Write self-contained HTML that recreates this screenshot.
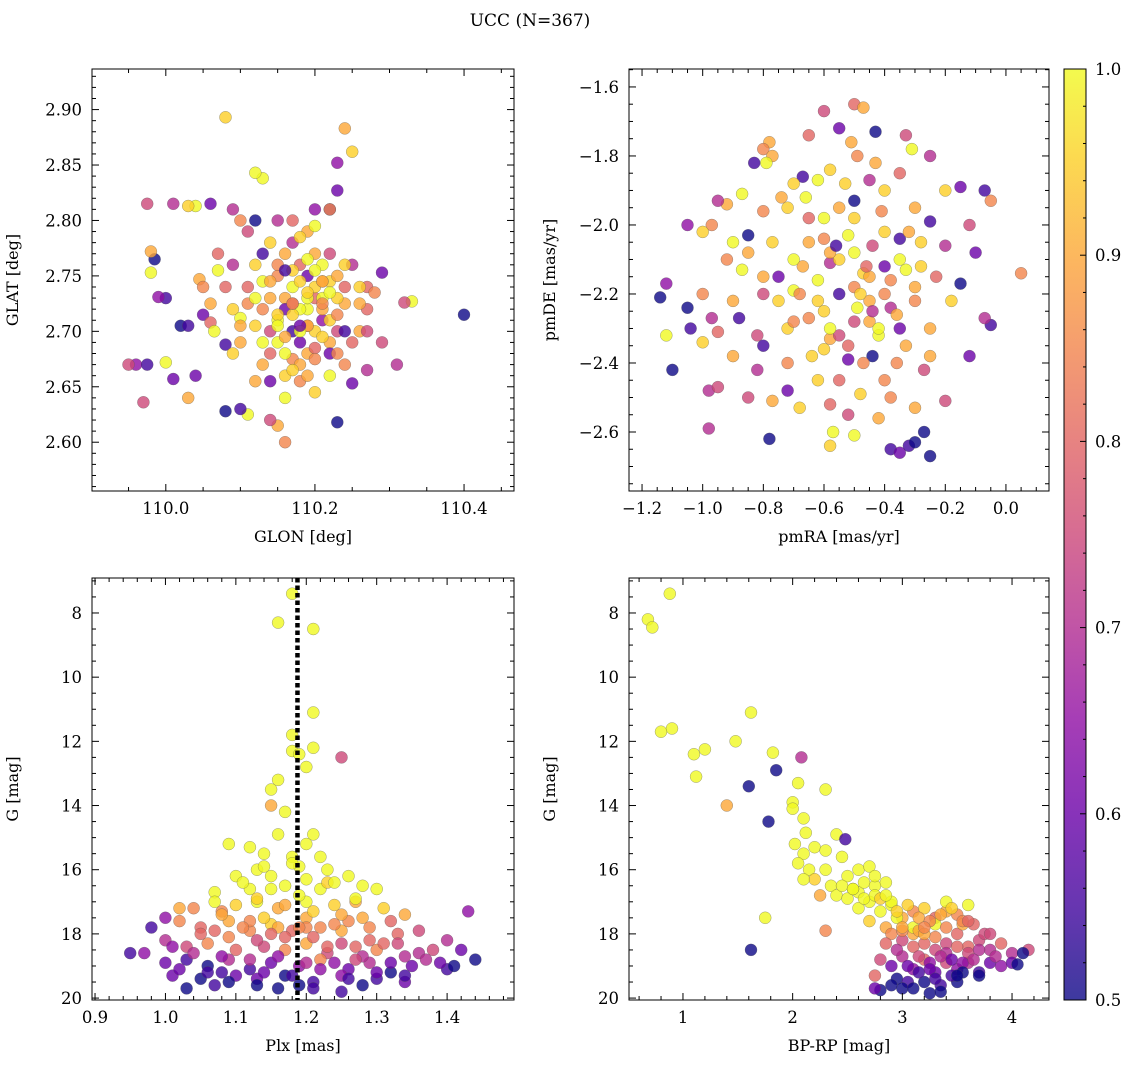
<!DOCTYPE html>
<html><head><meta charset="utf-8">
<style>
html,body{margin:0;padding:0;background:#fff;}
svg{display:block;font-family:"DejaVu Serif","Liberation Serif",serif;}
</style></head>
<body>
<svg id="fig" width="1136" height="1068" viewBox="0 0 1136 1068" xmlns="http://www.w3.org/2000/svg">
<defs>
<linearGradient id="plasma" x1="0" y1="1" x2="0" y2="0">
<stop offset="0" stop-color="#0d0887"/><stop offset="0.1" stop-color="#41049d"/><stop offset="0.2" stop-color="#6a00a8"/><stop offset="0.3" stop-color="#8f0da4"/><stop offset="0.4" stop-color="#b12a90"/><stop offset="0.5" stop-color="#cc4778"/><stop offset="0.6" stop-color="#e16462"/><stop offset="0.7" stop-color="#f2844b"/><stop offset="0.8" stop-color="#fca636"/><stop offset="0.9" stop-color="#fcce25"/><stop offset="1" stop-color="#f0f921"/>
</linearGradient>
</defs>
<text x="530" y="26" text-anchor="middle" font-size="17">UCC (N=367)</text>
<rect x="1064" y="69" width="22" height="931" fill="url(#plasma)" opacity="0.8" stroke="none"/>
<rect x="1064" y="69" width="22" height="931" fill="none" stroke="#000" stroke-width="1"/>
</svg>
<script>
// Panel 1: GLON vs GLAT
const glonVals=[110.4,110.33,110.32,110.29,110.31,110.29,110.27,110.27,110.25,110.24,110.23,110.23,110.22,110.22,110.23,110.25,110.24,110.22,110.2,110.19,110.18,110.17,110.16,110.15,110.14,110.12,110.11,110.1,110.08,110.08,110.13,110.12,110.15,110.17,110.2,110.14,110.1,110.09,110.07,110.06,110.04,110.03,110.0,109.99,109.985,109.98,109.98,109.975,110.01,109.96,109.975,109.97,109.95,110.0,110.01,110.02,110.03,110.03,110.04,110.05,110.045,110.05,110.06,110.065,110.08,110.09,110.1,110.1,110.11,110.12,110.13,110.14,110.15,110.16,110.17,110.18,110.19,110.2,110.21,110.22,110.23,110.24,110.25,110.26,110.27,110.16,110.18,110.2,110.17,110.19,110.21,110.15,110.13,110.11,110.07,110.09,110.16,110.2,110.18,110.14,110.22,110.2,110.19,110.12,110.24,110.26,110.21,110.17,110.16,110.22,110.19,110.21,110.23,110.18];
const glatVals=[2.715,2.727,2.726,2.753,2.67,2.69,2.74,2.665,2.862,2.883,2.852,2.827,2.81,2.81,2.618,2.653,2.725,2.745,2.7,2.72,2.69,2.675,2.6,2.615,2.62,2.655,2.625,2.63,2.628,2.893,2.838,2.843,2.8,2.8,2.77,2.78,2.8,2.81,2.77,2.815,2.813,2.813,2.73,2.731,2.765,2.772,2.753,2.815,2.815,2.67,2.67,2.636,2.67,2.672,2.657,2.705,2.705,2.64,2.66,2.715,2.747,2.74,2.708,2.7,2.688,2.68,2.69,2.712,2.74,2.76,2.72,2.7,2.69,2.66,2.74,2.76,2.75,2.73,2.71,2.69,2.7,2.67,2.76,2.7,2.72,2.73,2.72,2.74,2.7,2.68,2.76,2.75,2.77,2.79,2.755,2.76,2.64,2.645,2.655,2.655,2.66,2.81,2.79,2.8,2.7,2.74,2.72,2.78,2.72,2.68,2.705,2.73,2.75,2.745];
const glonProb=[0.5,1.0,0.75,0.6,0.7,0.75,0.8,0.7,0.95,0.9,0.65,0.6,0.55,0.85,0.5,0.6,0.9,0.95,0.95,1.0,0.6,0.85,0.85,0.9,0.75,0.9,1.0,0.55,0.5,0.95,1.0,1.0,0.7,0.8,0.9,0.95,0.85,0.7,0.8,0.6,1.0,0.95,0.55,0.65,0.5,0.9,1.0,0.75,0.7,0.65,0.55,0.75,0.75,1.0,0.6,0.5,0.55,0.9,0.6,0.6,0.9,0.85,0.8,1.0,0.55,0.95,0.9,1.0,0.8,0.95,0.85,0.75,1.0,0.95,1.0,0.8,0.6,0.8,0.65,0.9,0.75,0.85,0.7,0.9,0.8,0.9,1.0,0.95,0.55,0.9,1.0,0.85,0.55,0.75,1.0,0.7,1.0,0.95,0.85,0.6,1.0,0.65,0.9,0.5,0.55,0.95,0.9,0.7,0.6,0.6,0.85,1.0,0.9,0.95];
const glonValsB=[110.15,110.17,110.19,110.21,110.23,110.16,110.18,110.2,110.22,110.14,110.13,110.15,110.17,110.19,110.21,110.12,110.14,110.16,110.18,110.2,110.22,110.24,110.13,110.15,110.17,110.19,110.21,110.23,110.16,110.18,110.2,110.11,110.1,110.12,110.24,110.25,110.26,110.18,110.2,110.22,110.14,110.16,110.19,110.17,110.15,110.23,110.08,110.09,110.06,110.27,110.28,110.13,110.21,110.19,110.17];
const glatValsB=[2.71,2.715,2.705,2.725,2.73,2.695,2.7,2.685,2.71,2.73,2.745,2.76,2.755,2.73,2.745,2.705,2.68,2.68,2.67,2.675,2.735,2.74,2.67,2.715,2.725,2.765,2.695,2.715,2.77,2.785,2.795,2.725,2.705,2.73,2.76,2.69,2.725,2.705,2.755,2.77,2.745,2.755,2.66,2.665,2.705,2.68,2.74,2.72,2.725,2.7,2.735,2.69,2.745,2.735,2.725];
const glonProbB=[1.0,0.95,0.9,0.85,0.95,0.9,1.0,0.8,0.95,0.9,1.0,0.85,0.95,1.0,0.9,0.95,0.8,1.0,0.9,0.85,1.0,0.8,0.9,0.95,0.75,1.0,0.95,0.85,0.9,0.95,1.0,0.85,0.9,1.0,0.95,0.8,0.9,0.6,1.0,0.75,0.9,0.55,0.9,0.95,1.0,0.85,0.8,0.95,0.9,0.75,0.85,1.0,0.9,0.95,0.85];
// Panel 2: pmRA vs pmDE
const pmraVals=[-0.5,-0.47,-0.6,-0.65,-0.78,-0.8,-0.77,-0.83,-0.79,-0.55,-0.51,-0.43,-0.33,-0.31,-0.25,-0.49,-0.58,-0.67,-0.7,-0.62,-0.45,-0.4,-0.35,-0.15,-0.07,-0.2,-0.05,-0.87,-0.92,-0.95,-0.8,-0.72,-0.65,-0.55,-0.5,-0.3,-0.25,-0.12,-0.97,-1.0,-1.05,-0.85,-0.77,-0.6,-0.52,-0.44,-0.35,-0.28,-0.2,-0.1,0.05,-0.92,-0.87,-0.75,-0.67,-0.58,-0.47,-0.4,-0.33,-0.23,-0.15,-1.12,-1.14,-1.0,-0.9,-0.8,-0.7,-0.62,-0.55,-0.45,-0.38,-0.3,-0.18,-1.05,-1.04,-0.97,-0.95,-0.88,-0.82,-0.72,-0.65,-0.58,-0.5,-0.42,-0.35,-0.25,-0.05,-0.07,-1.12,-1.1,-1.0,-0.9,-0.8,-0.72,-0.6,-0.52,-0.44,-0.36,-0.25,-0.12,-0.98,-0.95,-0.85,-0.77,-0.68,-0.58,-0.48,-0.4,-0.3,-0.2,-0.98,-0.78,-0.57,-0.58,-0.5,-0.42,-0.38,-0.35,-0.32,-0.3,-0.25,-0.27];
const pmdeVals=[-1.65,-1.66,-1.67,-1.74,-1.76,-1.78,-1.8,-1.82,-1.82,-1.72,-1.76,-1.73,-1.74,-1.78,-1.8,-1.8,-1.84,-1.86,-1.88,-1.87,-1.87,-1.9,-1.85,-1.89,-1.9,-1.9,-1.93,-1.91,-1.94,-1.93,-1.96,-1.95,-1.98,-1.95,-1.93,-1.95,-1.99,-2.0,-2.0,-2.02,-2.0,-2.03,-2.05,-2.04,-2.03,-2.06,-2.04,-2.05,-2.06,-2.08,-2.14,-2.1,-2.13,-2.15,-2.12,-2.11,-2.14,-2.12,-2.13,-2.15,-2.17,-2.17,-2.21,-2.2,-2.22,-2.2,-2.19,-2.22,-2.2,-2.22,-2.24,-2.22,-2.22,-2.24,-2.3,-2.27,-2.31,-2.27,-2.32,-2.3,-2.27,-2.33,-2.28,-2.32,-2.3,-2.3,-2.29,-2.27,-2.32,-2.42,-2.34,-2.38,-2.35,-2.4,-2.36,-2.39,-2.38,-2.4,-2.38,-2.38,-2.48,-2.47,-2.5,-2.51,-2.53,-2.52,-2.49,-2.45,-2.53,-2.51,-2.59,-2.62,-2.6,-2.64,-2.61,-2.56,-2.65,-2.66,-2.64,-2.63,-2.67,-2.6];
const pmProb=[0.8,0.9,0.75,0.8,0.9,0.85,0.9,0.55,1.0,0.6,0.9,0.5,0.75,1.0,0.7,0.85,0.95,0.55,0.95,1.0,0.7,0.95,0.8,0.6,0.55,0.95,0.85,1.0,0.9,0.7,0.85,0.95,0.8,0.9,0.5,0.9,0.55,0.75,0.85,0.95,0.65,0.5,0.95,0.85,1.0,0.75,0.55,0.95,0.7,0.6,0.85,0.85,1.0,0.6,0.9,0.7,0.95,0.6,1.0,0.8,0.5,0.65,0.5,0.85,0.9,0.75,1.0,0.95,0.55,0.9,0.7,0.85,0.95,0.5,0.55,0.7,0.8,0.55,0.75,0.95,0.85,0.9,0.75,1.0,0.6,0.9,0.55,0.7,1.0,0.5,0.95,0.9,0.55,0.85,0.95,0.6,0.5,0.85,0.9,0.6,0.7,0.75,0.75,0.9,0.95,0.8,0.95,0.85,0.9,0.75,0.7,0.5,1.0,0.95,1.0,0.9,0.55,0.6,0.55,0.5,0.5,0.5];
const pmraValsB=[-0.55,-0.5,-0.45,-0.4,-0.35,-0.6,-0.65,-0.7,-0.5,-0.45,-0.55,-0.4,-0.3,-0.62,-0.68,-0.75,-0.85,-0.52,-0.48,-0.42,-0.38,-0.58,-0.6,-0.5,-0.44,-0.36,-0.28,-0.7,-0.8,-0.9,-0.55,-0.62,-0.47,-0.33,-0.27,-0.66,-0.74,-0.53,-0.41,-0.32,-0.58,-0.46,-0.64,-0.38,-0.52,-0.82,-0.72,-0.43,-0.56,-0.49];
const pmdeValsB=[-2.1,-2.08,-2.15,-2.2,-2.1,-2.25,-2.05,-2.1,-2.18,-2.28,-2.32,-2.02,-2.18,-2.16,-2.2,-2.22,-2.08,-2.35,-2.2,-2.3,-2.16,-2.08,-1.98,-1.98,-2.25,-2.26,-2.12,-2.28,-2.15,-2.05,-2.45,-2.45,-2.4,-2.35,-2.42,-1.92,-1.92,-1.88,-1.96,-2.02,-2.3,-2.12,-2.38,-2.5,-2.55,-2.42,-2.48,-1.82,-2.06,-2.24];
const pmProbB=[0.95,1.0,0.9,0.85,1.0,0.95,0.9,1.0,0.85,0.9,0.75,0.95,0.9,1.0,0.85,0.95,0.9,0.8,0.95,1.0,0.85,0.9,1.0,0.95,0.7,0.9,0.95,0.85,0.9,1.0,0.8,0.95,0.85,0.9,0.75,1.0,0.9,0.95,0.85,0.9,1.0,0.8,0.95,0.85,0.75,0.7,0.6,0.9,0.55,1.0];
// Panel 3: Plx vs G
const plxVals=[1.18,1.16,1.21,1.21,1.18,1.18,1.19,1.21,1.25,1.2,1.16,1.15,1.15,1.17,1.21,1.2,1.16,1.12,1.09,1.14,1.18,1.22,1.19,1.23,1.13,1.1,1.15,1.2,1.26,1.07,1.12,1.17,1.22,1.28,1.3,1.04,1.07,1.1,1.13,1.16,1.2,1.24,1.27,1.31,1.34,1.0,1.02,1.05,1.09,1.12,1.15,1.18,1.22,1.25,1.29,1.33,1.36,1.4,1.43,0.98,1.0,1.03,1.06,1.1,1.14,1.17,1.2,1.23,1.27,1.3,1.34,1.38,1.42,0.95,0.97,1.0,1.03,1.06,1.09,1.12,1.15,1.19,1.22,1.26,1.29,1.32,1.35,1.4,1.44,1.41,1.01,1.05,1.08,1.13,1.17,1.21,1.25,1.3,1.34,1.03,1.07,1.16,1.19,1.25,1.02,1.08,1.14,1.2,1.26,1.32];
const gPlxVals=[7.4,8.3,8.5,11.1,11.8,12.3,12.4,12.2,12.5,12.8,13.2,13.5,14.0,14.2,14.9,15.2,14.9,15.3,15.2,15.5,15.6,15.6,15.9,16.0,16.0,16.2,16.2,16.3,16.2,16.7,16.6,16.5,16.6,16.5,16.6,17.2,17.0,17.1,17.0,17.2,17.0,17.1,17.0,17.2,17.4,17.5,17.6,17.8,17.6,17.9,17.7,17.9,17.8,17.9,17.8,18.0,17.9,18.2,17.3,17.8,18.2,18.4,18.3,18.5,18.4,18.5,18.3,18.6,18.4,18.5,18.7,18.5,18.5,18.6,18.6,18.9,18.8,19.0,18.8,19.1,18.9,19.0,18.8,19.1,18.9,19.2,19.0,19.1,18.8,19.0,19.3,19.4,19.2,19.4,19.3,19.5,19.3,19.4,19.5,19.7,19.6,19.7,19.6,19.8,17.2,17.3,17.5,17.5,17.6,17.6];
const plxProb=[1,1,1,1,1,1,1,1,0.75,1,1,1,0.9,1,1,1,1,1,1,1,1,1,1,1,1,1,1,1,1,1,1,1,1,1,1,0.85,1,0.95,1,0.9,1,0.95,0.9,0.95,0.9,0.65,0.85,0.8,0.9,0.85,0.95,0.8,0.85,0.9,0.85,0.8,0.75,0.7,0.65,0.55,0.7,0.75,0.85,0.8,0.75,0.85,0.9,0.75,0.8,0.85,0.7,0.75,0.6,0.55,0.65,0.6,0.55,0.5,0.7,0.55,0.6,0.65,0.85,0.6,0.7,0.5,0.6,0.55,0.5,0.5,0.6,0.5,0.55,0.6,0.5,0.55,0.65,0.55,0.6,0.5,0.55,0.5,0.5,0.55,0.9,0.85,0.95,0.9,0.85,0.8];
const plxValsB=[1.11,1.15,1.19,1.23,1.27,1.13,1.17,1.21,1.25,1.08,1.12,1.16,1.2,1.24,1.28,1.05,1.09,1.13,1.17,1.21,1.25,1.29,1.33,1.04,1.08,1.12,1.16,1.2,1.24,1.28,1.32,1.36,1.06,1.1,1.14,1.18,1.22,1.26,1.3,1.34,1.02,1.11,1.15,1.19,1.23,1.27,1.31,1.37,1.09,1.13,1.21,1.28,1.18,1.24,1.14,1.07,1.01,1.39];
const gPlxValsB=[16.4,16.6,16.8,16.4,16.9,16.9,17.1,17.3,17.4,17.4,17.6,17.8,17.8,17.7,17.5,18.0,18.1,18.2,18.1,18.1,18.3,18.2,18.3,18.6,18.7,18.8,18.7,18.9,18.9,18.7,18.9,18.6,19.2,19.3,19.2,19.3,19.1,19.4,19.2,19.3,19.1,17.8,18.0,17.8,18.4,18.8,18.3,18.8,19.5,19.6,19.7,19.6,15.8,16.4,15.9,17.9,18.4,18.9];
const plxProbB=[1,1,1,0.95,1,0.95,0.9,0.95,0.9,0.9,0.85,0.9,0.85,0.85,0.9,0.8,0.85,0.75,0.8,0.8,0.75,0.8,0.75,0.7,0.65,0.7,0.65,0.7,0.65,0.7,0.6,0.7,0.55,0.6,0.6,0.55,0.65,0.55,0.6,0.55,0.6,0.85,0.8,0.85,0.8,0.75,0.8,0.7,0.5,0.5,0.55,0.5,1,1,1,0.8,0.65,0.6];
const plxLine=[1.1875];
// Panel 4: BP-RP vs G
const bprpVals=[0.68,0.72,0.88,0.8,0.9,1.1,1.2,1.12,1.48,1.62,1.4,1.6,1.78,1.62,1.75,1.82,1.85,2.08,2.05,2.0,2.0,2.3,2.3,2.1,2.12,2.4,2.48,2.02,2.1,2.2,2.3,2.05,2.15,2.3,2.45,2.2,2.1,2.35,2.5,2.6,2.7,2.4,2.5,2.6,2.75,2.85,2.25,2.6,2.7,2.8,2.9,2.7,2.85,3.0,3.1,3.2,3.3,3.4,3.5,3.6,3.4,2.9,3.0,3.1,3.2,3.3,3.4,3.5,3.6,3.7,3.8,3.9,4.0,4.15,4.1,2.8,2.9,3.0,3.1,3.2,3.3,3.4,3.5,3.6,3.7,3.8,3.9,4.0,4.05,2.75,2.95,3.05,3.2,3.35,3.5,3.7,3.25,3.35,2.8,3.0,2.75,3.1,3.3,3.55,2.95,3.15];
const gCmdVals=[8.2,8.45,7.4,11.7,11.6,12.4,12.25,13.1,12.0,11.1,14.0,13.4,14.5,18.5,17.5,12.35,12.9,12.5,13.3,13.9,14.1,13.5,17.9,14.4,14.85,14.9,15.05,15.2,15.5,15.3,15.4,15.8,16.0,16.0,15.6,16.3,16.3,16.5,16.2,16.0,15.9,16.8,16.9,16.7,16.5,16.4,16.8,17.2,17.0,17.3,17.1,17.6,17.8,17.5,17.3,17.2,17.5,17.3,17.4,17.1,17.0,18.0,18.2,18.0,18.3,18.1,18.3,18.0,18.4,18.2,18.5,18.3,18.6,18.5,18.6,18.8,19.0,18.7,19.1,18.8,19.2,18.9,19.1,18.9,19.2,18.9,19.0,18.9,18.95,19.3,19.4,19.5,19.5,19.6,19.5,19.3,19.85,19.8,19.75,19.7,19.7,17.8,17.7,17.7,17.5,17.9];
const cmdProb=[1,1,1,1,1,1,1,1,1,1,0.9,0.5,0.5,0.5,1,1,0.5,0.7,1,1,1,1,0.85,1,1,1,0.55,1,1,1,1,1,1,1,1,0.95,1,1,1,1,1,1,1,1,1,1,0.9,1,1,1,1,0.95,0.9,0.9,0.85,0.95,0.8,0.9,0.85,1,1,0.85,0.75,0.9,0.8,0.85,0.75,0.8,0.8,0.75,0.7,0.8,0.7,0.75,0.5,0.75,0.6,0.7,0.65,0.8,0.6,0.75,0.65,0.7,0.55,0.6,0.65,0.6,0.5,0.8,0.5,0.55,0.5,0.55,0.5,0.5,0.5,0.5,0.5,0.5,0.6,1,1,0.9,1,0.9];
const bprpValsB=[2.55,2.65,2.75,2.8,2.9,2.95,3.05,3.15,3.25,3.35,3.45,3.55,3.65,3.75,3.0,3.1,3.2,3.3,3.4,3.5,3.6,3.7,3.15,3.25,3.35,3.45,3.55,3.65,2.85,2.95,3.05,3.15,3.25,3.45,3.55,3.85,2.9,3.1,3.3,3.5,2.65,2.75,2.85,2.45,2.55,3.0,3.2,3.4,3.6,3.8];
const gCmdValsB=[16.6,16.9,16.8,16.9,17.0,17.3,17.1,17.5,17.6,17.4,17.2,17.6,17.7,18.0,17.9,18.4,18.0,18.5,18.6,18.4,18.6,18.5,18.7,18.9,18.7,18.8,18.9,18.8,18.3,18.5,19.0,19.2,19.1,19.3,19.2,18.7,19.6,19.7,19.4,19.3,16.4,16.2,16.8,16.5,16.6,17.8,17.8,17.8,17.6,18.0];
const cmdProbB=[1,1,1,0.95,1,0.95,0.95,0.9,0.85,0.9,0.95,0.85,0.8,0.75,0.85,0.8,0.9,0.75,0.7,0.8,0.75,0.7,0.75,0.65,0.7,0.6,0.65,0.7,0.8,0.7,0.6,0.55,0.6,0.55,0.5,0.7,0.5,0.5,0.55,0.5,1,1,1,1,1,0.9,0.85,0.85,0.8,0.75];
const cbarTicks=[0.5,0.6,0.7,0.8,0.9,1.0];

const NS="http://www.w3.org/2000/svg";
const svg=document.getElementById('fig');
const stops=[[13,8,135],[65,4,157],[106,0,168],[143,13,164],[177,42,144],[204,71,120],[225,100,98],[242,132,75],[252,166,54],[252,206,37],[240,249,33]];
function plasma(v){let t=(v-0.5)/0.5;t=Math.max(0,Math.min(1,t));const f=t*10;const i=Math.min(9,Math.floor(f));const r=f-i;const a=stops[i],b=stops[i+1];return 'rgb('+a.map((c,k)=>Math.round(c+(b[k]-c)*r)).join(',')+')';}
function mk(tag,attrs,parent){const e=document.createElementNS(NS,tag);for(const k in attrs)e.setAttribute(k,attrs[k]);(parent||svg).appendChild(e);return e;}
function scale(d0,d1,r0,r1){return v=>r0+(v-d0)/(d1-d0)*(r1-r0);}
function fmt(v,dec){let s=v.toFixed(dec);if(v<0)s='\u2212'+(-v).toFixed(dec);return s;}

function panel(name,box,xd,yd,xMaj,xMin,xDec,yMaj,yMin,yDec,xs,ys,cs,xlab,ylab){
  const g=mk('g',{});
  
  
  const sx=scale(xd[0],xd[1],box.x0,box.x1),sy=scale(yd[0],yd[1],box.y1,box.y0);
  const pg=mk('g',{},g);
  
  
  for(let i=0;i<xs.length;i++){
    const c=mk('circle',{cx:sx(xs[i]).toFixed(1),cy:sy(ys[i]).toFixed(1),r:6,fill:plasma(cs[i]),'fill-opacity':0.8,stroke:'#555','stroke-width':0.4,'stroke-opacity':0.7},pg);
    
    
  }
  const frame=mk('rect',{x:box.x0,y:box.y0,width:box.x1-box.x0,height:box.y1-box.y0,fill:'none',stroke:'#000','stroke-width':1},g);
  
  
  const tg=mk('g',{stroke:'#000','stroke-width':1},g);
  
  
  const lo=Math.min(xd[0],xd[1]),hi=Math.max(xd[0],xd[1]);
  for(let v=Math.ceil(lo/xMin-1e-6)*xMin;v<=hi+1e-9;v+=xMin){
    const px=sx(v);const isMaj=Math.abs(v/xMaj-Math.round(v/xMaj))<1e-4;const L=isMaj?7:4;
    mk('line',{x1:px,x2:px,y1:box.y1,y2:box.y1-L},tg);mk('line',{x1:px,x2:px,y1:box.y0,y2:box.y0+L},tg);
    if(isMaj){const t=mk('text',{x:px,y:box.y1+23,'text-anchor':'middle','font-size':16.5,stroke:'none'},g);t.textContent=fmt(Math.round(v/xMaj)*xMaj,xDec);
      
      }
  }
  const ylo=Math.min(yd[0],yd[1]),yhi=Math.max(yd[0],yd[1]);
  for(let v=Math.ceil(ylo/yMin-1e-6)*yMin;v<=yhi+1e-9;v+=yMin){
    const py=sy(v);const isMaj=Math.abs(v/yMaj-Math.round(v/yMaj))<1e-4;const L=isMaj?7:4;
    mk('line',{x1:box.x0,x2:box.x0+L,y1:py,y2:py},tg);mk('line',{x1:box.x1,x2:box.x1-L,y1:py,y2:py},tg);
    if(isMaj){const t=mk('text',{x:box.x0-10,y:py+6,'text-anchor':'end','font-size':16.5,stroke:'none'},g);t.textContent=fmt(Math.round(v/yMaj)*yMaj,yDec);
      
      }
  }
  const xl=mk('text',{x:(box.x0+box.x1)/2,y:box.y1+51,'text-anchor':'middle','font-size':16},g);xl.textContent=xlab;
  
  
  const yx=box.x0-74,yy=(box.y0+box.y1)/2;
  const yl=mk('text',{x:yx,y:yy,'text-anchor':'middle','font-size':16,transform:'rotate(-90 '+yx+' '+yy+')'},g);yl.textContent=ylab;
  
  
  return {sx,sy,g};
}
panel('glon-glat-panel',{x0:92,x1:514,y0:69,y1:491},[109.901,110.467],[2.556,2.9366],0.2,0.05,1,0.05,0.01,2,glonVals.concat(glonValsB),glatVals.concat(glatValsB),glonProb.concat(glonProbB),'GLON [deg]','GLAT [deg]');
panel('pm-panel',{x0:629,x1:1049,y0:69,y1:491},[-1.243,0.142],[-2.771,-1.548],0.2,0.05,1,0.2,0.05,1,pmraVals.concat(pmraValsB),pmdeVals.concat(pmdeValsB),pmProb.concat(pmProbB),'pmRA [mas/yr]','pmDE [mas/yr]');
const p3=panel('plx-g-panel',{x0:92,x1:514,y0:578,y1:1000},[0.8957,1.495],[20.06,6.91],0.1,0.02,1,2,0.5,0,plxVals.concat(plxValsB),gPlxVals.concat(gPlxValsB),plxProb.concat(plxProbB),'Plx [mas]','G [mag]');
const pl=mk('line',{x1:p3.sx(plxLine[0]),x2:p3.sx(plxLine[0]),y1:578,y2:1000,stroke:'#000','stroke-width':4.5,'stroke-dasharray':'4.5 3'},p3.g);


panel('cmd-panel',{x0:629,x1:1049,y0:578,y1:1000},[0.508,4.337],[20.06,6.91],1,0.2,0,2,0.5,0,bprpVals.concat(bprpValsB),gCmdVals.concat(gCmdValsB),cmdProb.concat(cmdProbB),'BP-RP [mag]','G [mag]');
const cs=scale(0.5,1.0,1000,69);
for(let v=0.5;v<=1.0001;v+=0.02){
  const y=cs(v);const maj=Math.abs(v*10-Math.round(v*10))<1e-4;
  mk('line',{x1:1086,x2:1086-(maj?6:3),y1:y,y2:y,stroke:'#000','stroke-width':1});
}
cbarTicks.forEach(v=>{
  const t=mk('text',{x:1095,y:cs(v)+6,'font-size':16.5});t.textContent=v.toFixed(1);
  
  
});
</script>
</body></html>
